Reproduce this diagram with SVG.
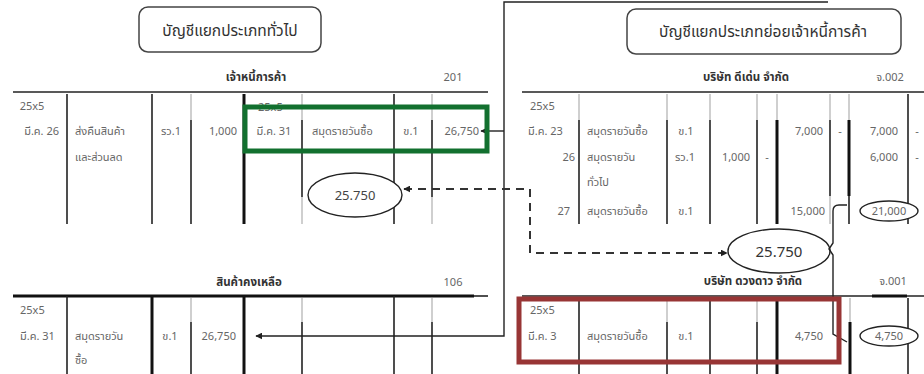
<svg xmlns="http://www.w3.org/2000/svg" width="924" height="374" viewBox="0 0 924 374">
<defs>
<style>
text{font-family:"Noto Sans Thai","Tahoma","DejaVu Sans","Liberation Sans",sans-serif;}
.t{font-size:11px;fill:#666;}
.h{font-size:11.5px;fill:#333;font-weight:bold;}
.n{font-size:11px;fill:#666;}
.title{font-size:15.5px;fill:#333;}
.e{font-size:13px;fill:#444;}
.d{stroke:#222;stroke-width:1.6;fill:none;}
.k{stroke:#111;stroke-width:3;fill:none;}
.g{stroke:#bbb;stroke-width:1.4;fill:none;}
.rl{stroke:#222;stroke-width:1.6;fill:none;}
.box{fill:#fff;stroke:#444;stroke-width:1.5;}
.ell{fill:#fff;stroke:#222;stroke-width:1.4;}
.con{stroke:#222;stroke-width:1.4;fill:none;}
.dash{stroke:#333;stroke-width:2;fill:none;stroke-dasharray:8,6;}
</style>
<marker id="ah" viewBox="0 0 10 10" refX="9" refY="5" markerWidth="7" markerHeight="7" orient="auto-start-reverse" markerUnits="userSpaceOnUse">
<path d="M0,0 L10,5 L0,10 z" fill="#222"/>
</marker>
</defs>
<rect width="924" height="374" fill="#fff"/>

<g id="title-general">
<rect class="box" x="139" y="7" width="182" height="45" rx="9"/>
<text class="title" x="230" y="36" text-anchor="middle">บัญชีแยกประเภททั่วไป</text>
</g>

<g id="title-sub">
<rect class="box" x="627" y="9" width="274" height="45" rx="9"/>
<text class="title" x="763" y="37" text-anchor="middle">บัญชีแยกประเภทย่อยเจ้าหนี้การค้า</text>
</g>

<g id="ledger-payable">
<text class="h" x="256" y="81" text-anchor="middle">เจ้าหนี้การค้า</text>
<text class="n" x="453" y="81" text-anchor="middle">201</text>
<line class="rl" x1="13" y1="92" x2="488" y2="92"/>
<line class="d" x1="67" y1="94" x2="67" y2="224"/>
<line class="d" x1="152" y1="94" x2="152" y2="224"/>
<line class="g" x1="191" y1="94" x2="191" y2="120"/>
<line class="d" x1="191" y1="120" x2="191" y2="224"/>
<line class="k" x1="244" y1="94" x2="244" y2="224"/>
<line class="g" x1="302" y1="94" x2="302" y2="120"/>
<line class="d" x1="302" y1="120" x2="302" y2="197"/>
<line class="g" x1="302" y1="197" x2="302" y2="224"/>
<line class="d" x1="394" y1="94" x2="394" y2="224"/>
<line class="g" x1="432" y1="94" x2="432" y2="120"/>
<line class="d" x1="432" y1="120" x2="432" y2="197"/>
<line class="g" x1="432" y1="197" x2="432" y2="224"/>
<text class="t" x="32" y="110" text-anchor="middle">25x5</text>
<text class="t" x="59" y="135" text-anchor="end">มี.ค. 26</text>
<text class="t" x="75" y="135">ส่งคืนสินค้า</text>
<text class="t" x="75" y="161">และส่วนลด</text>
<text class="t" x="171" y="135" text-anchor="middle">รว.1</text>
<text class="t" x="237" y="135" text-anchor="end">1,000</text>
<text class="t" x="258" y="111">25x5</text>
<text class="t" x="274" y="135" text-anchor="middle">มี.ค. 31</text>
<text class="t" x="312" y="135">สมุดรายวันซื้อ</text>
<text class="t" x="411" y="135" text-anchor="middle">ข.1</text>
<text class="t" x="479" y="135" text-anchor="end">26,750</text>
<ellipse class="ell" cx="355" cy="195" rx="47" ry="22"/>
<text class="e" x="355" y="200" text-anchor="middle">25.750</text>
</g>

<g id="ledger-inventory">
<text class="h" x="249" y="286" text-anchor="middle">สินค้าคงเหลือ</text>
<text class="n" x="453" y="286" text-anchor="middle">106</text>
<line class="k" x1="13" y1="296" x2="474" y2="296"/>
<line class="rl" x1="474" y1="296" x2="488" y2="296"/>
<line class="d" x1="67" y1="296" x2="67" y2="374"/>
<line class="k" x1="152" y1="296" x2="152" y2="374"/>
<line class="g" x1="191" y1="298" x2="191" y2="322"/>
<line class="d" x1="191" y1="322" x2="191" y2="374"/>
<line class="k" x1="244" y1="296" x2="244" y2="374"/>
<line class="g" x1="302" y1="298" x2="302" y2="322"/>
<line class="d" x1="302" y1="322" x2="302" y2="374"/>
<line class="d" x1="394" y1="296" x2="394" y2="374"/>
<line class="g" x1="432" y1="298" x2="432" y2="322"/>
<line class="d" x1="432" y1="322" x2="432" y2="374"/>
<text class="t" x="20" y="314">25x5</text>
<text class="t" x="20" y="340">มี.ค. 31</text>
<text class="t" x="75" y="340">สมุดรายวัน</text>
<text class="t" x="75" y="364">ซื้อ</text>
<text class="t" x="170" y="340" text-anchor="middle">ข.1</text>
<text class="t" x="236" y="340" text-anchor="end">26,750</text>
</g>

<g id="ledger-deeden">
<text class="h" x="746" y="81" text-anchor="middle">บริษัท ดีเด่น จำกัด</text>
<text class="n" x="890" y="81" text-anchor="middle">จ.002</text>
<line class="rl" x1="522" y1="92" x2="924" y2="92"/>
<line class="g" x1="579" y1="94" x2="579" y2="120"/>
<line class="d" x1="579" y1="120" x2="579" y2="224"/>
<line class="g" x1="667" y1="94" x2="667" y2="120"/>
<line class="d" x1="667" y1="120" x2="667" y2="224"/>
<line class="g" x1="710" y1="94" x2="710" y2="120"/>
<line class="d" x1="710" y1="120" x2="710" y2="224"/>
<line class="g" x1="757" y1="94" x2="757" y2="120"/>
<line class="d" x1="757" y1="120" x2="757" y2="224"/>
<line class="g" x1="777" y1="94" x2="777" y2="120"/>
<line class="k" x1="777" y1="120" x2="777" y2="224"/>
<line class="g" x1="830" y1="94" x2="830" y2="120"/>
<line class="d" x1="830" y1="120" x2="830" y2="196"/>
<line class="g" x1="830" y1="196" x2="830" y2="224"/>
<line class="g" x1="849" y1="94" x2="849" y2="120"/>
<line class="k" x1="849" y1="120" x2="849" y2="196"/>
<line class="d" x1="849" y1="196" x2="849" y2="224"/>
<line class="d" x1="908" y1="94" x2="908" y2="224"/>
<text class="t" x="530" y="110">25x5</text>
<text class="t" x="528" y="135">มี.ค. 23</text>
<text class="t" x="587" y="135">สมุดรายวันซื้อ</text>
<text class="t" x="686" y="135" text-anchor="middle">ข.1</text>
<text class="t" x="823" y="135" text-anchor="end">7,000</text>
<text class="t" x="840" y="135" text-anchor="middle">-</text>
<text class="t" x="898" y="135" text-anchor="end">7,000</text>
<text class="t" x="917" y="135" text-anchor="middle">-</text>
<text class="t" x="575" y="161" text-anchor="end">26</text>
<text class="t" x="587" y="161">สมุดรายวัน</text>
<text class="t" x="685" y="161" text-anchor="middle">รว.1</text>
<text class="t" x="750" y="161" text-anchor="end">1,000</text>
<text class="t" x="767" y="161" text-anchor="middle">-</text>
<text class="t" x="898" y="161" text-anchor="end">6,000</text>
<text class="t" x="917" y="161" text-anchor="middle">-</text>
<text class="t" x="587" y="186">ทั่วไป</text>
<text class="t" x="570" y="215" text-anchor="end">27</text>
<text class="t" x="587" y="215">สมุดรายวันซื้อ</text>
<text class="t" x="686" y="215" text-anchor="middle">ข.1</text>
<text class="t" x="825" y="215" text-anchor="end">15,000</text>
<ellipse class="ell" cx="889" cy="211" rx="29" ry="10"/>
<text class="t" x="889" y="215" text-anchor="middle">21,000</text>
</g>

<g id="ledger-duangdao">
<text class="h" x="753" y="285" text-anchor="middle">บริษัท ดวงดาว จำกัด</text>
<text class="n" x="893" y="285" text-anchor="middle">จ.001</text>
<line class="rl" x1="522" y1="296" x2="924" y2="296"/>
<line class="k" x1="872" y1="296" x2="907" y2="296"/>
<line class="d" x1="579" y1="298" x2="579" y2="374"/>
<line class="g" x1="667" y1="298" x2="667" y2="322"/>
<line class="d" x1="667" y1="322" x2="667" y2="374"/>
<line class="d" x1="710" y1="298" x2="710" y2="374"/>
<line class="g" x1="757" y1="298" x2="757" y2="322"/>
<line class="d" x1="757" y1="322" x2="757" y2="374"/>
<line class="k" x1="777" y1="298" x2="777" y2="374"/>
<line class="g" x1="850" y1="298" x2="850" y2="322"/>
<line class="k" x1="850" y1="322" x2="850" y2="374"/>
<line class="d" x1="908" y1="298" x2="908" y2="374"/>
<text class="t" x="530" y="314">25x5</text>
<text class="t" x="528" y="340">มี.ค. 3</text>
<text class="t" x="587" y="340">สมุดรายวันซื้อ</text>
<text class="t" x="686" y="340" text-anchor="middle">ข.1</text>
<text class="t" x="823" y="340" text-anchor="end">4,750</text>
<ellipse class="ell" cx="889" cy="336" rx="29" ry="10"/>
<text class="t" x="889" y="340" text-anchor="middle">4,750</text>
</g>

<g id="total-ellipse">
<ellipse class="ell" cx="779" cy="251" rx="51" ry="22"/>
<text class="e" x="779" y="257" text-anchor="middle" style="font-size:15px;fill:#333">25.750</text>
</g>

<g id="connectors">
<path class="con" d="M828,2 H504 V336 H256" marker-end="url(#ah)"/>
<path class="con" d="M504,131 H481" marker-end="url(#ah)"/>
<path class="dash" d="M404,189 H530 V253 H727" marker-start="url(#ah)" marker-end="url(#ah)"/>
<path class="con" d="M847,205 H839 Q833,205 833,211 V243 L829,249 L833,255 V334 L847,342"/>
</g>

<g id="highlights">
<rect x="245" y="107" width="242" height="44" fill="none" stroke="#12702f" stroke-width="5"/>
<rect x="519" y="299" width="320" height="63" fill="none" stroke="#983535" stroke-width="5"/>
</g>
</svg>
